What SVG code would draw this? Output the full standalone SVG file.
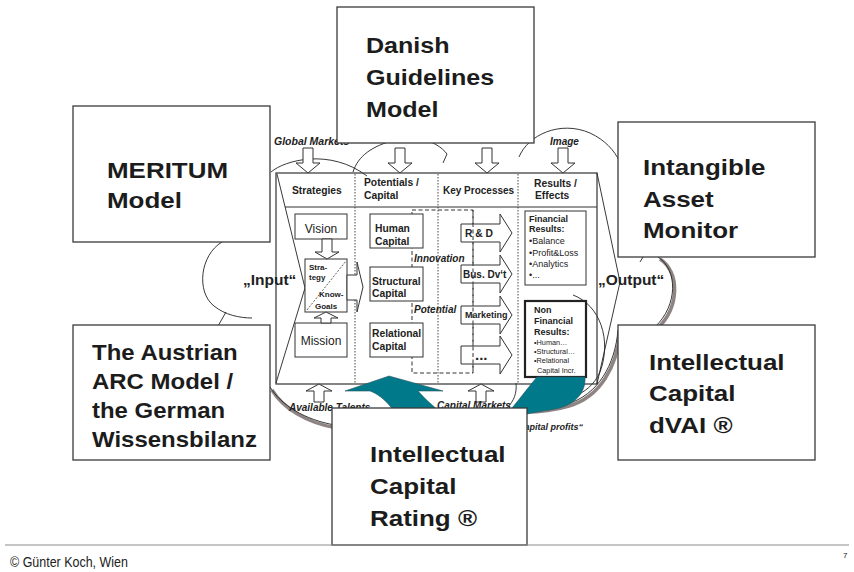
<svg xmlns="http://www.w3.org/2000/svg" width="854" height="572" viewBox="0 0 854 572">
<style>
.bx{fill:#fff;stroke:#3a3a3a;stroke-width:1.3}
.big{font-family:"Liberation Sans",Arial,sans-serif;font-weight:bold;font-size:22px;fill:#1c1c1c}
.ln{fill:none;stroke:#222;stroke-width:0.9}
.sh{fill:none;stroke:#8e8484;stroke-width:3.5}
.fr{fill:none;stroke:#333;stroke-width:1.2}
.dot{stroke:#333;stroke-width:0.9;stroke-dasharray:1.5 1.5}
.ar{fill:#fff;stroke:#333;stroke-width:1}
.ib{fill:#fff;stroke:#333;stroke-width:1}
.t{font-family:"Liberation Sans",Arial,sans-serif;fill:#222}
.b{font-weight:bold}
.bi{font-weight:bold;font-style:italic}
</style>
<rect width="854" height="572" fill="#fff"/>

<g id="cloud">
  <path class="sh" d="M 660,259 C 680,272 680,307 657,329"/>
  <path class="ln" d="M 658,257 C 678,270 678,305 655,327"/>
  <path class="sh" d="M 620,332 C 617,367 600,397 569,406 C 552,411 537,412 525,412"/>
  <path class="ln" d="M 618,330 C 615,365 598,395 567,404 C 550,409 535,410 523,410"/>
  <path class="sh" d="M 272,390 C 283,408 306,423 337,428"/>
  <path class="ln" d="M 270,387 C 281,405 305,420 335,425"/>
  <path class="ln" d="M 271,172 C 285,160 330,148 367,176"/>
  <path class="ln" d="M 353,172 C 358,156 372,146 395,140"/>
  <path class="ln" d="M 418,138 C 432,141 442,147 447,154 L 443,163"/>
  <path class="ln" d="M 519,157 C 528,135 560,120 590,133 C 605,140 614,150 620,162"/>
  <path class="ln" d="M 222,242 C 200,255 196,292 214,306 C 225,315 240,318 252,318"/>
  <path class="ln" d="M 226,312 L 218,326"/>
  <path class="ln" d="M 643,257 L 640,262"/>
  <path class="ln" d="M 573,295 C 600,305 612,340 600,372 C 594,385 585,392 573,397"/>
  <path class="ln" d="M 516,383 C 517,393 514,401 507,408"/>
</g>

<g id="frame">
  <rect x="276" y="173" width="321" height="211" class="fr"/>
  <line x1="285" y1="207" x2="597" y2="207" class="fr"/>
  <path class="ln" d="M 277,174 L 305,288 L 276,383"/>
  <path class="ln" d="M 597,173 L 620,282 L 597,384"/>
  <line x1="355" y1="174" x2="355" y2="384" class="dot"/>
  <line x1="438" y1="174" x2="438" y2="384" class="dot"/>
  <line x1="518" y1="174" x2="518" y2="384" class="dot"/>
  <text class="t b" font-size="10.3" x="292" y="194">Strategies</text>
  <text class="t b" font-size="10.3"><tspan x="364" y="186">Potentials /</tspan><tspan x="364" y="199">Capital</tspan></text>
  <text class="t b" font-size="10" x="443" y="194">Key Processes</text>
  <text class="t b" font-size="10.3"><tspan x="534" y="187">Results /</tspan><tspan x="535" y="199">Effects</tspan></text>
  <rect x="412" y="210" width="61" height="163" fill="none" stroke="#333" stroke-width="1" stroke-dasharray="4 2.5"/>
</g>

<g id="vision">
  <rect class="ib" x="295" y="214" width="52" height="25"/>
  <text class="t" font-size="12" x="321" y="233" text-anchor="middle" fill="#333">Vision</text>
</g>
<g id="strategy">
  <rect class="ib" x="305" y="259" width="42" height="53"/>
  <line x1="307" y1="310" x2="346" y2="261" stroke="#333" stroke-width="0.8" stroke-dasharray="2 1.5"/>
  <text class="t b" font-size="8"><tspan x="309" y="270">Stra-</tspan><tspan x="309" y="280">tegy</tspan><tspan x="319" y="297">Know-</tspan><tspan x="315" y="309">Goals</tspan></text>
</g>
<g id="mission">
  <rect class="ib" x="295" y="323" width="52" height="34"/>
  <text class="t" font-size="12" x="321" y="345" text-anchor="middle" fill="#333">Mission</text>
</g>
<g id="human">
  <rect class="ib" x="370" y="214" width="53" height="34"/>
  <text class="t b" font-size="10.3"><tspan x="375" y="232">Human</tspan><tspan x="375" y="245">Capital</tspan></text>
</g>
<g id="structural">
  <rect class="ib" x="370" y="267" width="53" height="34"/>
  <text class="t b" font-size="10.3"><tspan x="372" y="285">Structural</tspan><tspan x="372" y="297">Capital</tspan></text>
</g>
<g id="relational">
  <rect class="ib" x="370" y="323" width="53" height="34"/>
  <text class="t b" font-size="10.3"><tspan x="372" y="337">Relational</tspan><tspan x="372" y="350">Capital</tspan></text>
</g>
<g id="labels-dashed">
  <text class="t bi" font-size="10" x="414" y="262">Innovation</text>
  <text class="t bi" font-size="10" x="414" y="313">Potential</text>
</g>
<g id="rd">
  <path class="ar" d="M 461,224 L 500,224 L 500,214 L 512,233 L 500,252 L 500,242 L 461,242 Z"/>
  <text class="t b" font-size="10.3" x="465" y="237">R &amp; D</text>
</g>
<g id="busdev">
  <path class="ar" d="M 461,265 L 500,265 L 500,255 L 512,274 L 500,293 L 500,283 L 461,283 Z"/>
  <text class="t b" font-size="10" x="463" y="278">Bus. Dv‘t</text>
</g>
<g id="marketing">
  <path class="ar" d="M 461,306 L 500,306 L 500,296 L 512,315 L 500,334 L 500,324 L 461,324 Z"/>
  <text class="t b" font-size="9" x="465" y="318">Marketing</text>
</g>
<g id="more">
  <path class="ar" d="M 461,346 L 500,346 L 500,336 L 512,355 L 500,374 L 500,364 L 461,364 Z"/>
  <text class="t b" font-size="15" x="475" y="360">...</text>
</g>
<line x1="473" y1="210" x2="473" y2="373" stroke="#333" stroke-width="1" stroke-dasharray="4 2.5"/>
<g id="financial">
  <rect class="ib" x="525" y="211" width="61" height="74"/>
  <text class="t b" font-size="9"><tspan x="529" y="222">Financial</tspan><tspan x="529" y="232">Results:</tspan></text>
  <text class="t" font-size="9" fill="#333"><tspan x="529" y="244">•Balance</tspan><tspan x="529" y="256">•Profit&amp;Loss</tspan><tspan x="529" y="267">•Analytics</tspan><tspan x="529" y="278">•...</tspan></text>
</g>
<g id="nonfinancial">
  <rect x="525" y="301" width="61" height="76" fill="#fff" stroke="#222" stroke-width="2.2"/>
  <text class="t b" font-size="9"><tspan x="534" y="313">Non</tspan><tspan x="534" y="324">Financial</tspan><tspan x="534" y="335">Results:</tspan></text>
  <text class="t" font-size="7.3" fill="#333"><tspan x="534" y="345">•Human…</tspan><tspan x="534" y="354">•Structural…</tspan><tspan x="534" y="363">•Relational</tspan><tspan x="537" y="373">Capital Incr.</tspan></text>
</g>

<g id="connectors">
  <path class="ar" d="M 303,148 L 313,148 L 313,163 L 320,163 L 308,173 L 296,163 L 303,163 Z"/>
  <path class="ar" d="M 395,148 L 405,148 L 405,163 L 412,163 L 400,173 L 388,163 L 395,163 Z"/>
  <path class="ar" d="M 482,148 L 492,148 L 492,163 L 499,163 L 487,173 L 475,163 L 482,163 Z"/>
  <path class="ar" d="M 558,148 L 568,148 L 568,163 L 575,163 L 563,173 L 551,163 L 558,163 Z"/>
  <path class="ar" d="M 314,402 L 324,402 L 324,391 L 332,391 L 319,384 L 306,391 L 314,391 Z"/>
  <path class="ar" d="M 476,402 L 486,402 L 486,391 L 494,391 L 481,384 L 468,391 L 476,391 Z"/>
  <path class="ar" d="M 322,239 L 332,239 L 332,252 L 339,252 L 327,259 L 315,252 L 322,252 Z"/>
  <path class="ar" d="M 321,323 L 331,323 L 331,318 L 338,318 L 326,312 L 314,318 L 321,318 Z"/>
  <path class="ar" d="M 347,275 L 357,275 L 357,262 L 363,287 L 357,312 L 357,300 L 347,300 Z"/>
  <path d="M 345,391 L 389,376 L 443,391 L 418,391 C 424,398 431,404 440,412 C 460,428 500,425 512,408 C 522,396 530,385 537,377 L 585,377 C 586,392 576,405 555,409 C 540,412 530,412 515,418 C 480,445 410,440 393,410 C 386,400 378,394 370,391 Z" fill="#007a8a" stroke="#2a5560" stroke-width="0.6"/>
</g>

<g id="cloud-labels">
  <text class="t bi" font-size="10.5" x="274" y="145">Global Markets</text>
  <text class="t bi" font-size="10" x="550" y="145">Image</text>
  <text class="t bi" font-size="10" x="289" y="411">Available Talents</text>
  <text class="t bi" font-size="10" x="437" y="409">Capital Markets</text>
  <text class="t bi" font-size="9" x="583" y="430" text-anchor="end" fill="#666">„Capital profits“</text>
  <text class="t b" font-size="15.5" x="243" y="285">„Input“</text>
  <text class="t b" font-size="15.5" x="598" y="285">„Output“</text>
</g>

<g id="meritum">
  <rect class="bx" x="73" y="106" width="197" height="136"/>
  <text class="big" transform="translate(107,178) scale(1.18,1)"><tspan x="0" y="0">MERITUM</tspan><tspan x="0" y="30">Model</tspan></text>
</g>
<g id="austrian">
  <rect class="bx" x="73" y="325" width="197" height="135"/>
  <text class="big" transform="translate(92,360) scale(1.09,1)"><tspan x="0" y="0">The Austrian</tspan><tspan x="0" y="29">ARC Model /</tspan><tspan x="0" y="58">the German</tspan><tspan x="0" y="87">Wissensbilanz</tspan></text>
</g>
<g id="danish">
  <rect class="bx" x="337" y="7" width="197" height="136"/>
  <text class="big" transform="translate(366,53) scale(1.14,1)"><tspan x="0" y="0">Danish</tspan><tspan x="0" y="32">Guidelines</tspan><tspan x="0" y="64">Model</tspan></text>
</g>
<g id="iam">
  <rect class="bx" x="618" y="122" width="197" height="135"/>
  <text class="big" transform="translate(643,175) scale(1.18,1)"><tspan x="0" y="0">Intangible</tspan><tspan x="0" y="32">Asset</tspan><tspan x="0" y="63">Monitor</tspan></text>
</g>
<g id="dvai">
  <rect class="bx" x="618" y="325" width="197" height="135"/>
  <text class="big" transform="translate(649,370) scale(1.18,1)"><tspan x="0" y="0">Intellectual</tspan><tspan x="0" y="31">Capital</tspan><tspan x="0" y="63">dVAI ®</tspan></text>
</g>
<g id="icr">
  <rect class="bx" x="332" y="408" width="195" height="137"/>
  <text class="big" transform="translate(370,462) scale(1.18,1)"><tspan x="0" y="0">Intellectual</tspan><tspan x="0" y="32">Capital</tspan><tspan x="0" y="64">Rating ®</tspan></text>
</g>

<g id="footer">
  <line x1="5" y1="545" x2="849" y2="545" stroke="#8f8a8a" stroke-width="1.2"/>
  <text class="t" font-size="14.5" transform="translate(10,567) scale(0.86,1)" fill="#333">© Günter Koch, Wien</text>
  <text class="t" font-size="8" x="843" y="558" fill="#333">7</text>
</g>
</svg>
